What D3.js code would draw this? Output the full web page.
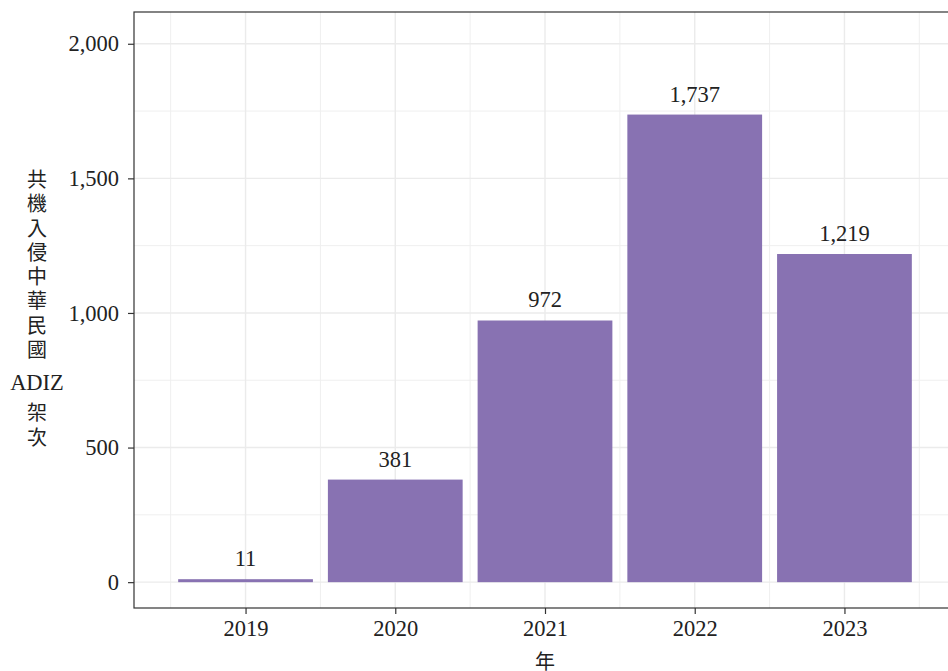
<!DOCTYPE html>
<html>
<head>
<meta charset="utf-8">
<script src="https://cdn.jsdelivr.net/npm/d3@7"></script>
<style>
  body { margin: 0; background: #fff; }
  svg text { font-family: "Liberation Serif", "DejaVu Serif", serif; fill: #222; }
  .cjk { font-family: "Noto Sans CJK TC", "Noto Sans CJK SC", sans-serif; }
</style>
</head>
<body>
<svg id="chart" width="948" height="671"></svg>
<script>
const years = [2019, 2020, 2021, 2022, 2023];
const counts = [11, 381, 972, 1737, 1219];
const yTicks = [0, 500, 1000, 1500, 2000];
const yMinor = [250, 750, 1250, 1750];
const xMinor = [2018.5, 2019.5, 2020.5, 2021.5, 2022.5, 2023.5];
const yTitleLines = ["共", "機", "入", "侵", "中", "華", "民", "國", "ADIZ", "架", "次"];
const xTitle = "年";

const svg = d3.select("#chart");
const margin = { top: 12, left: 134 };
const panelW = 822;
const panelH = 596;

const xScale = d3.scaleLinear()
    .domain([2018.255, 2023.745])
    .range([0, panelW]);

const yScale = d3.scaleLinear()
    .domain([-96, 2118])
    .range([panelH, 0]);

const fmt = d3.format(",");

const chart = svg.append("g")
    .attr("transform", `translate(${margin.left},${margin.top})`);

// grid
chart.selectAll(".ymin").data(yMinor).enter().append("line")
    .attr("x1", 0).attr("x2", panelW)
    .attr("y1", d => yScale(d)).attr("y2", d => yScale(d))
    .attr("stroke", "#efefef").attr("stroke-width", 1);
chart.selectAll(".xmin").data(xMinor).enter().append("line")
    .attr("y1", 0).attr("y2", panelH)
    .attr("x1", d => xScale(d)).attr("x2", d => xScale(d))
    .attr("stroke", "#efefef").attr("stroke-width", 1);
chart.selectAll(".ymaj").data(yTicks).enter().append("line")
    .attr("x1", 0).attr("x2", panelW)
    .attr("y1", d => yScale(d)).attr("y2", d => yScale(d))
    .attr("stroke", "#ebebeb").attr("stroke-width", 1.4);
chart.selectAll(".xmaj").data(years).enter().append("line")
    .attr("y1", 0).attr("y2", panelH)
    .attr("x1", d => xScale(d)).attr("x2", d => xScale(d))
    .attr("stroke", "#ebebeb").attr("stroke-width", 1.4);

// bars
const bw = xScale(0.9) - xScale(0);
chart.selectAll(".bar").data(years).enter().append("rect")
    .attr("x", d => xScale(d) - bw / 2)
    .attr("width", bw)
    .attr("y", (d, i) => yScale(counts[i]))
    .attr("height", (d, i) => yScale(0) - yScale(counts[i]))
    .attr("fill", "#8872b2");

// value labels
chart.selectAll(".lbl").data(years).enter().append("text")
    .attr("x", d => xScale(d))
    .attr("y", (d, i) => yScale(counts[i]) - 13)
    .attr("text-anchor", "middle")
    .style("font-size", "22.5px")
    .text((d, i) => fmt(counts[i]));

// panel border
chart.append("rect")
    .attr("x", 0).attr("y", 0)
    .attr("width", panelW).attr("height", panelH)
    .attr("fill", "none").attr("stroke", "#333").attr("stroke-width", 1.2);

// axes
const yAxis = d3.axisLeft(yScale).tickValues(yTicks).tickFormat(fmt).tickSize(6).tickPadding(9);
const gy = chart.append("g").call(yAxis);
gy.select(".domain").remove();
gy.selectAll(".tick line").attr("stroke", "#333").attr("stroke-width", 1.2);
gy.selectAll(".tick text").style("font-size", "22.5px").attr("fill", "#222")
    .style("font-family", "'Liberation Serif', serif");

const xAxis = d3.axisBottom(xScale).tickValues(years).tickFormat(d3.format("d")).tickSize(6).tickPadding(6);
const gx = chart.append("g").attr("transform", `translate(0,${panelH})`).call(xAxis);
gx.select(".domain").remove();
gx.selectAll(".tick line").attr("stroke", "#333").attr("stroke-width", 1.2);
gx.selectAll(".tick text").style("font-size", "22.5px").attr("fill", "#222")
    .style("font-family", "'Liberation Serif', serif");

// axis titles
const yTitleY = [187, 211, 236, 260, 284, 308, 333, 357, 390, 420, 445];
svg.selectAll(".ytitle").data(yTitleLines).enter().append("text")
    .attr("class", (d, i) => i === 8 ? "" : "cjk")
    .attr("x", 37)
    .attr("y", (d, i) => yTitleY[i])
    .attr("text-anchor", "middle")
    .style("font-size", (d, i) => i === 8 ? "22.5px" : "20px")
    .text(d => d);

svg.append("text")
    .attr("class", "cjk")
    .attr("x", xScale(2021) + margin.left)
    .attr("y", 669)
    .attr("text-anchor", "middle")
    .style("font-size", "20px")
    .text(xTitle);
</script>
</body>
</html>
